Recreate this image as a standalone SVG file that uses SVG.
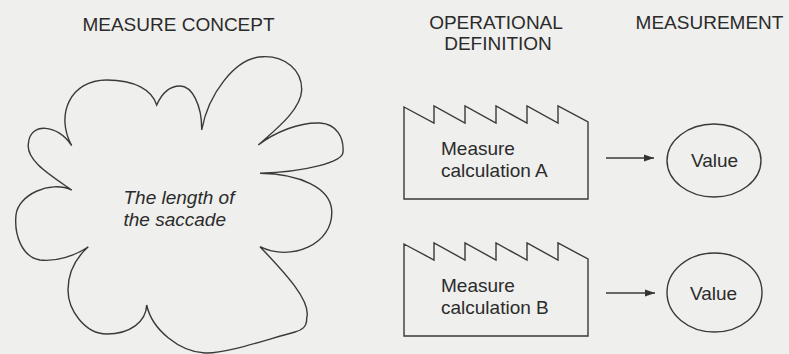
<svg xmlns="http://www.w3.org/2000/svg" width="789" height="354" viewBox="0 0 789 354">
<defs>
<marker id="arrow" viewBox="0 0 10 8" refX="10" refY="4" markerWidth="10" markerHeight="8" markerUnits="userSpaceOnUse" orient="auto">
<path d="M0,0.5 L10,4 L0,7.5 Z" fill="#333"/>
</marker>
<style>
.bg{fill:#efefed}
.ln{fill:none;stroke:#3a3a3a;stroke-width:1.4;stroke-linejoin:miter}
.t{font-family:"Liberation Sans",Arial,sans-serif;font-size:19px;fill:#2b2b2b}
.h{text-anchor:middle}
.i{font-style:italic}
.c{stroke:#3a3a3a;stroke-width:1.4;fill:none}
</style>
</defs>
<rect class="bg" x="0" y="0" width="789" height="354"/>

<g id="headers">
<text class="t h" x="178.5" y="30.5">MEASURE CONCEPT</text>
<text class="t h" x="496" y="28.5">OPERATIONAL</text>
<text class="t h" x="498" y="50">DEFINITION</text>
<text class="t h" x="709.5" y="28.5">MEASUREMENT</text>
</g>

<g id="concept">
<path class="ln" d="M71.7,145.7
C55,115 70,80 106.7,80
C135,80 152,90 156.7,105
C162,93 170,86 180,86
C192,86 202,105 201.7,130
C208,95 235,57 263.3,56.7
C285,56 302,70 301.7,90
C301,110 275,130 258.3,145
C275,132 300,122 320,123
C337,124 344,138 343,152
C343,162 305,172 260,173.3
C300,174 330,188 331.7,210
C334,245 290,262 260,246.7
C280,268 312,300 306.7,318
C307,327 302,330 295,332
C265,340 225,354 205,353
C180,352 152,330 146.7,305
C146,322 130,334 106.7,334
C85,334 68,310 68,290
C68,270 78,256 88.3,246.7
C75,256 55,262 40,260
C22,257 14,235 16,215
C18,195 50,180 71.7,190
C50,175 25,160 28.5,143
C30,122 58,124 71.7,145.7 Z"/>
<text class="t i" x="123.5" y="204">The length of</text>
<text class="t i" x="123.5" y="226">the saccade</text>
</g>

<g id="calcA">
<path class="ln" d="M404,107 L434,123 L434,106 L465,123 L465,106 L496,123 L496,106 L527,123 L527,106 L558,123 L558,106 L588,122 L588,199 L404,199 Z"/>
<text class="t" x="441" y="155">Measure</text>
<text class="t" x="441" y="177">calculation A</text>
</g>

<g id="calcB">
<path class="ln" d="M404,244 L434,260 L434,243 L465,260 L465,243 L496,260 L496,243 L527,260 L527,243 L558,260 L558,243 L588,259 L588,336 L404,336 Z"/>
<text class="t" x="441" y="292">Measure</text>
<text class="t" x="441" y="314">calculation B</text>
</g>

<g id="valueA">
<ellipse class="c" cx="714" cy="160.5" rx="47" ry="36.5"/>
<text class="t h" x="714.5" y="167">Value</text>
</g>

<g id="valueB">
<ellipse class="c" cx="714.5" cy="292.5" rx="47.5" ry="39.5"/>
<text class="t h" x="713.5" y="300">Value</text>
</g>

<g id="connectors">
<line class="c" x1="606" y1="158" x2="654" y2="158" marker-end="url(#arrow)"/>
<line class="c" x1="606" y1="293" x2="655" y2="293" marker-end="url(#arrow)"/>
</g>
</svg>
